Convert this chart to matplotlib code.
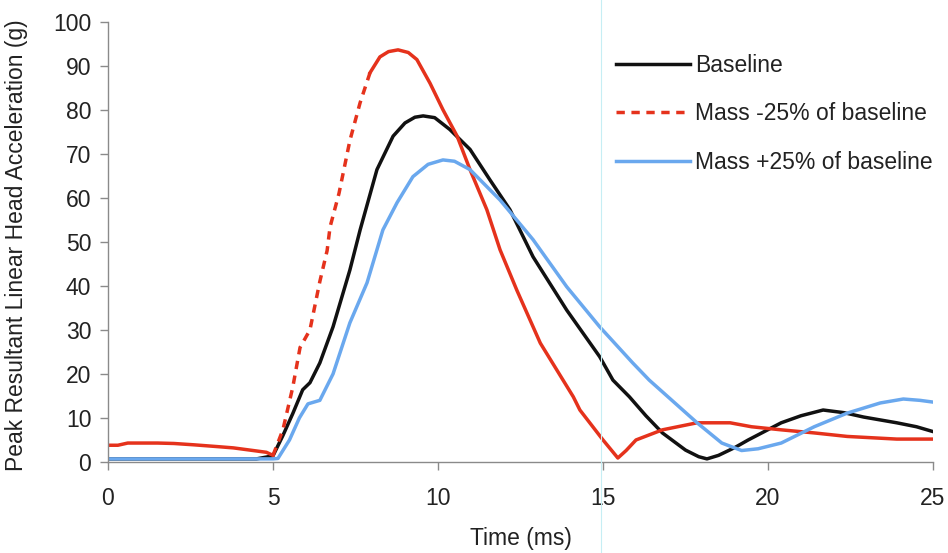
import numpy as np
import matplotlib
matplotlib.use("Agg")
import matplotlib.pyplot as plt
from matplotlib.lines import Line2D

plt.rcParams['font.family'] = ['Liberation Sans', 'DejaVu Sans']

# --- data (time in ms, acceleration in g) ---
base_t = [0, 1, 2, 3, 4, 4.5, 5.0, 5.3, 5.6, 5.9, 6.12, 6.42, 6.82, 7.33, 7.64, 8.15,
          8.64, 9.0, 9.3, 9.55, 9.9, 10.36, 10.97, 11.58, 12.18, 12.88, 13.9, 14.9,
          15.3, 15.8, 16.3, 16.8, 17.5, 17.9, 18.15, 18.5, 19.0, 19.4, 20.4, 21.0,
          21.67, 22.3, 22.9, 23.9, 24.5, 25]
base_y = [0.7, 0.7, 0.7, 0.7, 0.7, 0.7, 1.4, 6, 11, 16.4, 18, 22.5, 30.7, 43.6, 52.7,
          66.4, 74, 77, 78.3, 78.6, 78.2, 75.5, 71, 64, 57.3, 46.6, 34.5, 23.9,
          18.6, 14.8, 10.5, 6.6, 2.7, 1.2, 0.7, 1.5, 3.3, 5, 8.9, 10.5,
          11.8, 11.2, 10.2, 8.9, 8.0, 6.9]

light_t = [0, 0.3, 0.6, 1.5, 2.0, 2.6, 3.3, 3.8, 4.3, 4.8, 5.0, 5.3, 5.6, 5.82, 6.12,
           6.42, 6.64, 6.73, 7.0, 7.33, 7.64, 7.94, 8.24, 8.5, 8.79, 9.1, 9.36, 9.76,
           10.15, 10.58, 10.97, 11.48, 11.88, 12.39, 13.1, 14.1, 14.3, 15.0, 15.45,
           15.7, 16.0, 16.8, 17.85, 18.85, 19.5, 20.4, 21.4, 22.4, 23.9, 25]
light_y = [3.8, 3.8, 4.3, 4.3, 4.2, 3.9, 3.5, 3.2, 2.7, 2.2, 1.5, 7.3, 17, 26, 30,
           41, 48, 53.4, 61, 73, 81.6, 88.4, 92, 93.2, 93.6, 93, 91.4, 86,
           80, 74, 66.4, 57.3, 48.2, 39, 27, 14.8, 11.8, 5, 0.9,
           2.6, 5, 7.3, 8.9, 8.9, 8.0, 7.3, 6.6, 5.8, 5.2, 5.2]

heavy_t = [0, 1, 2, 3, 4, 5.0, 5.15, 5.5, 5.8, 6.06, 6.42, 6.82, 7.33, 7.85, 8.33,
           8.76, 9.24, 9.7, 10.15, 10.5, 10.97, 11.88, 12.88, 13.9, 14.9, 15.9,
           16.4, 17.85, 18.6, 19.2, 19.7, 20.4, 21.4, 22.4, 23.4, 24.1, 24.6, 25]
heavy_y = [0.7, 0.7, 0.7, 0.7, 0.7, 0.7, 0.8, 5, 10, 13.2, 14, 20, 31.6, 40.7, 52.7,
           58.9, 64.8, 67.6, 68.6, 68.3, 66.4, 59.5, 50.5, 39.8, 30.7, 22.5,
           18.6, 8.9, 4.3, 2.6, 3.0, 4.3, 8, 11.1, 13.4, 14.3, 14.0, 13.6]

labels = ['Baseline', 'Mass -25% of baseline', 'Mass +25% of baseline']
x_ticks = [0, 5, 10, 15, 20, 25]
y_ticks = list(range(0, 101, 10))

c_base = '#111111'
c_light = '#e5321c'
c_heavy = '#6aa8ee'
lw = 2.5
fs = 16.5

fig = plt.figure(figsize=(9.48, 5.53), dpi=100)
ax = fig.add_axes([0.1139, 0.1646, 0.8703, 0.7962])

ax.plot(base_t, base_y, color=c_base, lw=lw, solid_joinstyle='round')

lt = np.array(light_t)
ly = np.array(light_y)
m1 = lt <= 5.0
m2 = (lt >= 5.0) & (lt <= 7.94)
m3 = lt >= 7.94
ax.plot(lt[m1], ly[m1], color=c_light, lw=lw)
ax.plot(lt[m2], ly[m2], color=c_light, lw=lw, dashes=(2.4, 1.9))
ax.plot(lt[m3], ly[m3], color=c_light, lw=lw, solid_joinstyle='round')

ax.plot(heavy_t, heavy_y, color=c_heavy, lw=lw, solid_joinstyle='round')

ax.set_xlim(0, 25)
ax.set_ylim(0, 100)
ax.set_xticks(x_ticks)
ax.set_yticks(y_ticks)
for s in ['top', 'right']:
    ax.spines[s].set_visible(False)
for s in ['left', 'bottom']:
    ax.spines[s].set_color('#8a8a8a')
    ax.spines[s].set_linewidth(1.0)
ax.tick_params(direction='out', length=6, width=1, color='#8a8a8a',
               labelsize=fs, labelcolor='#222222')
ax.tick_params(axis='x', pad=12)
ax.tick_params(axis='y', pad=6)

ax.set_xlabel('Time (ms)', fontsize=fs, color='#222222', labelpad=12)
ax.set_ylabel('Peak Resultant Linear Head Acceleration (g)', fontsize=fs,
              color='#222222')
ax.yaxis.set_label_coords(-0.097, 0.492)

handles = [Line2D([], [], color=c_base, lw=lw),
           Line2D([], [], color=c_light, lw=lw, dashes=(2.4, 1.9)),
           Line2D([], [], color=c_heavy, lw=lw)]
leg = ax.legend(handles, labels, loc='upper left', bbox_to_anchor=(0.628, 0.940),
                bbox_transform=fig.transFigure, frameon=False, fontsize=fs,
                handlelength=3.25, handletextpad=0.2, labelspacing=1.12)
for txt in leg.get_texts():
    txt.set_color('#222222')

# faint vertical scan line visible in the source image
fig.add_artist(Line2D([601 / 948, 601 / 948], [0, 1], transform=fig.transFigure,
                      color='#c6eef4', lw=0.8))

fig.savefig('out.png', dpi=100)
